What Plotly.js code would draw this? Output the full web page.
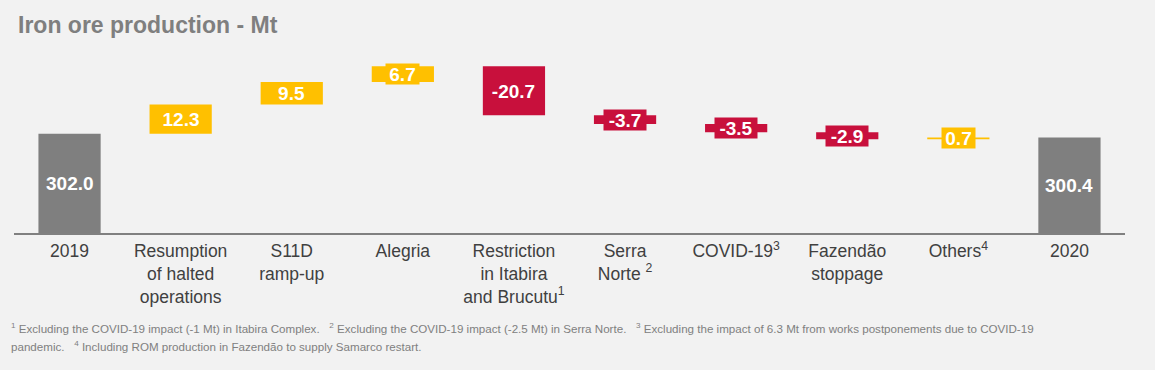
<!DOCTYPE html>
<html>
<head>
<meta charset="utf-8">
<script src="https://cdn.plot.ly/plotly-3.0.1.min.js"></script>
<style>html,body{margin:0;padding:0;background:#F2F2F2;}#chart{width:1155px;height:370px;}</style>
</head>
<body>
<div id="chart"></div>
<script>
// ---- data ----
const categories = ['2019', 'Resumption<br>of halted<br>operations', 'S11D<br>ramp-up', 'Alegria',
  'Restriction<br>in Itabira<br>and Brucutu<sup>1</sup>', 'Serra<br>Norte <sup>2</sup>', 'COVID-19<sup>3</sup>',
  'Fazendão<br>stoppage', 'Others<sup>4</sup>', '2020'];
const values = [302.0, 12.3, 9.5, 6.7, -20.7, -3.7, -3.5, -2.9, 0.7, 300.4];
const measures = ['absolute', 'relative', 'relative', 'relative', 'relative', 'relative', 'relative', 'relative', 'relative', 'total'];
const labels = ['302.0', '12.3', '9.5', '6.7', '-20.7', '-3.7', '-3.5', '-2.9', '0.7', '300.4'];
const footnote1 = '<sup>1</sup> Excluding the COVID-19 impact (-1 Mt) in Itabira Complex.   <sup>2</sup> Excluding the COVID-19 impact (-2.5 Mt) in Serra Norte.   <sup>3</sup> Excluding the impact of 6.3 Mt from works postponements due to COVID-19';
const footnote2 = 'pandemic.   <sup>4</sup> Including ROM production in Fazendão to supply Samarco restart.';

// ---- style ----
const YELLOW = '#FFC000', RED = '#C8103C', GRAY = '#7F7F7F';
const yRange = [260.2, 335.2];

const trace = {
  type: 'waterfall',
  x: categories,
  y: values,
  measure: measures,
  textinfo: 'none',
  hoverinfo: 'none',
  connector: {visible: false},
  increasing: {marker: {color: YELLOW}},
  decreasing: {marker: {color: RED}},
  totals: {marker: {color: GRAY}}
};

const labelFont = {family: 'Liberation Sans, Arial, sans-serif', size: 19, color: '#FFFFFF'};
const annotations = [];
let cum = 0;
for (let i = 0; i < values.length; i++) {
  if (measures[i] === 'relative') {
    const mid = cum + values[i] / 2;
    cum += values[i];
    annotations.push({
      x: i, y: mid, xref: 'x', yref: 'y', text: '<b>' + labels[i] + '</b>',
      showarrow: false, bgcolor: values[i] >= 0 ? YELLOW : RED,
      width: 9 * labels[i].length + 6, height: 20, borderpad: 0,
      font: labelFont
    });
  } else {
    cum = values[i];
    annotations.push({
      x: i, y: (yRange[0] + values[i]) / 2, xref: 'x', yref: 'y', text: '<b>' + labels[i] + '</b>',
      showarrow: false, font: labelFont
    });
  }
}
const fnFont = {family: 'Liberation Sans Narrow, Arial Narrow, Liberation Sans, Arial, sans-serif', size: 11.6, color: '#808080'};
annotations.push({xref: 'paper', yref: 'paper', x: -0.0045, y: -0.534, xanchor: 'left', yanchor: 'middle',
  text: footnote1, showarrow: false, font: fnFont, align: 'left'});
annotations.push({xref: 'paper', yref: 'paper', x: -0.0045, y: -0.637, xanchor: 'left', yanchor: 'middle',
  text: footnote2, showarrow: false, font: fnFont, align: 'left'});

const layout = {
  width: 1155, height: 370,
  paper_bgcolor: '#F2F2F2', plot_bgcolor: '#F2F2F2',
  margin: {l: 14, r: 30, t: 55, b: 137},
  showlegend: false,
  waterfallgap: 0.44,
  title: {text: '<b>Iron ore production - Mt</b>', xref: 'container', yref: 'container',
    x: 18 / 1155, xanchor: 'left', y: 1 - 25 / 370, yanchor: 'middle',
    font: {family: 'Liberation Sans, Arial, sans-serif', size: 23, color: '#7F7F7F'}},
  xaxis: {type: 'category', range: [-0.5, 9.5], showline: true, linecolor: '#808080', linewidth: 2,
    ticks: '', showgrid: false, zeroline: false, fixedrange: true, ticklabelstandoff: 1,
    tickfont: {family: 'Liberation Sans, Arial, sans-serif', size: 17.5, color: '#404040'}},
  yaxis: {range: yRange, visible: false, showgrid: false, zeroline: false, fixedrange: true},
  annotations: annotations
};

Plotly.newPlot('chart', [trace], layout, {displayModeBar: false, staticPlot: true});
</script>
</body>
</html>
